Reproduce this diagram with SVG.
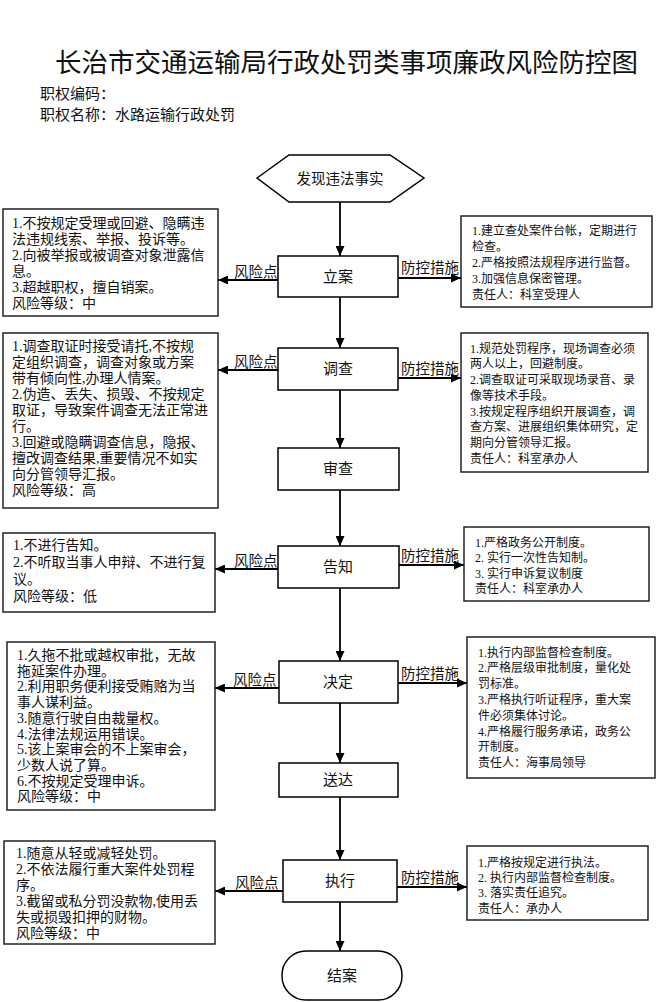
<svg xmlns="http://www.w3.org/2000/svg" width="656" height="1002" viewBox="0 0 656 1002">
<defs>
<marker id="ah" markerUnits="userSpaceOnUse" markerWidth="10" markerHeight="9" refX="10" refY="4.5" orient="auto">
<path d="M0,0 L10,4.5 L0,9 z" fill="#000"/>
</marker>
<style>
text{font-family:"Noto Sans CJK SC","Noto Sans",sans-serif;fill:#111}
.title{font-size:26.5px}
.meta{font-size:15px}
.node{fill:#fff;stroke:#000;stroke-width:1.5}
.nl{font-size:15px;text-anchor:middle}
.box{fill:#fff;stroke:#222;stroke-width:1.5}
.lt,.rt{font-family:"Liberation Serif","Noto Sans CJK SC",serif}
.lt{font-size:14px}
.rt{font-size:12px}
.lab{font-size:14.5px}
.con{stroke:#000;stroke-width:1.8;fill:none;marker-end:url(#ah)}
</style>
</defs>
<rect width="656" height="1002" fill="#fff"/>
<text class="title" x="55" y="72">长治市交通运输局行政处罚类事项廉政风险防控图</text>
<text class="meta" x="40" y="99">职权编码：</text>
<text class="meta" x="40" y="120">职权名称：水路运输行政处罚</text>

<g id="connectors">
<line class="con" x1="340" y1="202" x2="340" y2="256"/>
<line class="con" x1="340" y1="297" x2="340" y2="348"/>
<line class="con" x1="340" y1="390" x2="340" y2="448"/>
<line class="con" x1="340" y1="490" x2="340" y2="546"/>
<line class="con" x1="340" y1="588" x2="340" y2="661"/>
<line class="con" x1="340" y1="703" x2="340" y2="763"/>
<line class="con" x1="340" y1="797" x2="340" y2="860"/>
<line class="con" x1="340" y1="902" x2="340" y2="951"/>
<line class="con" x1="278" y1="280" x2="218" y2="280"/>
<line class="con" x1="398" y1="278" x2="461" y2="278"/>
<line class="con" x1="278" y1="370" x2="218" y2="370"/>
<line class="con" x1="398" y1="378" x2="461" y2="378"/>
<line class="con" x1="278" y1="569" x2="215" y2="569"/>
<line class="con" x1="399" y1="565" x2="464" y2="565"/>
<line class="con" x1="279" y1="688" x2="215" y2="688"/>
<line class="con" x1="398" y1="683" x2="467" y2="683"/>
<line class="con" x1="283" y1="891" x2="215" y2="891"/>
<line class="con" x1="397" y1="887" x2="467" y2="887"/>
<text class="lab" x="234" y="277">风险点</text>
<text class="lab" x="401" y="273">防控措施</text>
<text class="lab" x="234" y="367">风险点</text>
<text class="lab" x="401" y="374">防控措施</text>
<text class="lab" x="234" y="566">风险点</text>
<text class="lab" x="401" y="561">防控措施</text>
<text class="lab" x="233" y="685">风险点</text>
<text class="lab" x="401" y="679">防控措施</text>
<text class="lab" x="235" y="888">风险点</text>
<text class="lab" x="401" y="883">防控措施</text>
</g>

<g id="start">
<polygon class="node" points="257,178 289,155 390,155 424,178 390,202 289,202"/>
<text class="nl" x="340" y="184" style="font-size:14.5px">发现违法事实</text>
</g>
<g id="lian">
<rect class="node" x="278" y="256" width="120" height="41"/>
<text class="nl" x="338" y="282">立案</text>
</g>
<g id="diaocha">
<rect class="node" x="278" y="348" width="120" height="42"/>
<text class="nl" x="338" y="374">调查</text>
</g>
<g id="shencha">
<rect class="node" x="278" y="448" width="121" height="42"/>
<text class="nl" x="338" y="474">审查</text>
</g>
<g id="gaozhi">
<rect class="node" x="278" y="546" width="121" height="42"/>
<text class="nl" x="338" y="572">告知</text>
</g>
<g id="jueding">
<rect class="node" x="279" y="661" width="119" height="42"/>
<text class="nl" x="338" y="687">决定</text>
</g>
<g id="songda">
<rect class="node" x="279" y="763" width="119" height="34"/>
<text class="nl" x="338" y="785">送达</text>
</g>
<g id="zhixing">
<rect class="node" x="283" y="860" width="114" height="42"/>
<text class="nl" x="340" y="886">执行</text>
</g>
<g id="jiean">
<rect class="node" x="282" y="951" width="120" height="49" rx="24" ry="24"/>
<text class="nl" x="342" y="981">结案</text>
</g>

<g id="risk1">
<rect class="box" x="3" y="209" width="215" height="107"/>
<text class="lt"><tspan x="12" y="228">1.不按规定受理或回避、隐瞒违</tspan><tspan x="12" y="244">法违规线索、举报、投诉等。</tspan><tspan x="12" y="260">2.向被举报或被调查对象泄露信</tspan><tspan x="12" y="276">息。</tspan><tspan x="12" y="292">3.超越职权，擅自销案。</tspan><tspan x="12" y="308">风险等级：中</tspan></text>
</g>
<g id="risk2">
<rect class="box" x="3" y="333" width="215" height="175"/>
<text class="lt"><tspan x="12" y="351">1.调查取证时接受请托,不按规</tspan><tspan x="12" y="367">定组织调查，调查对象或方案</tspan><tspan x="12" y="383">带有倾向性,办理人情案。</tspan><tspan x="12" y="399">2.伪造、丢失、损毁、不按规定</tspan><tspan x="12" y="415">取证，导致案件调查无法正常进</tspan><tspan x="12" y="431">行。</tspan><tspan x="12" y="447">3.回避或隐瞒调查信息，隐报、</tspan><tspan x="12" y="463">擅改调查结果,重要情况不如实</tspan><tspan x="12" y="479">向分管领导汇报。</tspan><tspan x="12" y="495">风险等级：高</tspan></text>
</g>
<g id="risk3">
<rect class="box" x="3" y="533" width="212" height="79"/>
<text class="lt"><tspan x="13" y="550">1.不进行告知。</tspan><tspan x="13" y="567">2.不听取当事人申辩、不进行复</tspan><tspan x="13" y="584">议。</tspan><tspan x="13" y="601">风险等级：低</tspan></text>
</g>
<g id="risk4">
<rect class="box" x="7" y="642" width="208" height="168"/>
<text class="lt"><tspan x="17" y="660">1.久拖不批或越权审批，无故</tspan><tspan x="17" y="675.7">拖延案件办理。</tspan><tspan x="17" y="691.4">2.利用职务便利接受贿赂为当</tspan><tspan x="17" y="707.1">事人谋利益。</tspan><tspan x="17" y="722.8">3.随意行驶自由裁量权。</tspan><tspan x="17" y="738.5">4.法律法规运用错误。</tspan><tspan x="17" y="754.2">5.该上案审会的不上案审会，</tspan><tspan x="17" y="769.9">少数人说了算。</tspan><tspan x="17" y="785.6">6.不按规定受理申诉。</tspan><tspan x="17" y="801.3">风险等级：中</tspan></text>
</g>
<g id="risk5">
<rect class="box" x="4" y="841" width="211" height="103"/>
<text class="lt"><tspan x="16" y="858">1.随意从轻或减轻处罚。</tspan><tspan x="16" y="874">2.不依法履行重大案件处罚程</tspan><tspan x="16" y="890">序。</tspan><tspan x="16" y="906">3.截留或私分罚没款物,使用丢</tspan><tspan x="16" y="922">失或损毁扣押的财物。</tspan><tspan x="16" y="938">风险等级：中</tspan></text>
</g>

<g id="measure1">
<rect class="box" x="461" y="216" width="191" height="91"/>
<text class="rt"><tspan x="472" y="235">1.建立查处案件台帐，定期进行</tspan><tspan x="472" y="251">检查。</tspan><tspan x="472" y="267">2.严格按照法规程序进行监督。</tspan><tspan x="472" y="283">3.加强信息保密管理。</tspan><tspan x="472" y="299">责任人：科室受理人</tspan></text>
</g>
<g id="measure2">
<rect class="box" x="461" y="333" width="187" height="139"/>
<text class="rt"><tspan x="470" y="352.5">1.规范处罚程序，现场调查必须</tspan><tspan x="470" y="368">两人以上，回避制度。</tspan><tspan x="470" y="384">2.调查取证可采取现场录音、录</tspan><tspan x="470" y="399.5">像等技术手段。</tspan><tspan x="470" y="415.5">3.按规定程序组织开展调查，调</tspan><tspan x="470" y="431">查方案、进展组织集体研究，定</tspan><tspan x="470" y="447">期向分管领导汇报。</tspan><tspan x="470" y="462.5">责任人：科室承办人</tspan></text>
</g>
<g id="measure3">
<rect class="box" x="464" y="527" width="185" height="74"/>
<text class="rt"><tspan x="475" y="546.5">1.严格政务公开制度。</tspan><tspan x="475" y="562">2. 实行一次性告知制。</tspan><tspan x="475" y="577.5">3. 实行申诉复议制度</tspan><tspan x="475" y="593">责任人：科室承办人</tspan></text>
</g>
<g id="measure4">
<rect class="box" x="467" y="637" width="188" height="141"/>
<text class="rt"><tspan x="478" y="656.5">1.执行内部监督检查制度。</tspan><tspan x="478" y="672">2.严格层级审批制度，量化处</tspan><tspan x="478" y="688">罚标准。</tspan><tspan x="478" y="704">3.严格执行听证程序，重大案</tspan><tspan x="478" y="719.5">件必须集体讨论。</tspan><tspan x="478" y="735.5">4.严格履行服务承诺，政务公</tspan><tspan x="478" y="751">开制度。</tspan><tspan x="478" y="767">责任人：海事局领导</tspan></text>
</g>
<g id="measure5">
<rect class="box" x="467" y="846" width="181" height="74"/>
<text class="rt"><tspan x="478" y="866.5">1.严格按规定进行执法。</tspan><tspan x="478" y="881.5">2. 执行内部监督检查制度。</tspan><tspan x="478" y="897">3. 落实责任追究。</tspan><tspan x="478" y="912.5">责任人：承办人</tspan></text>
</g>
</svg>
